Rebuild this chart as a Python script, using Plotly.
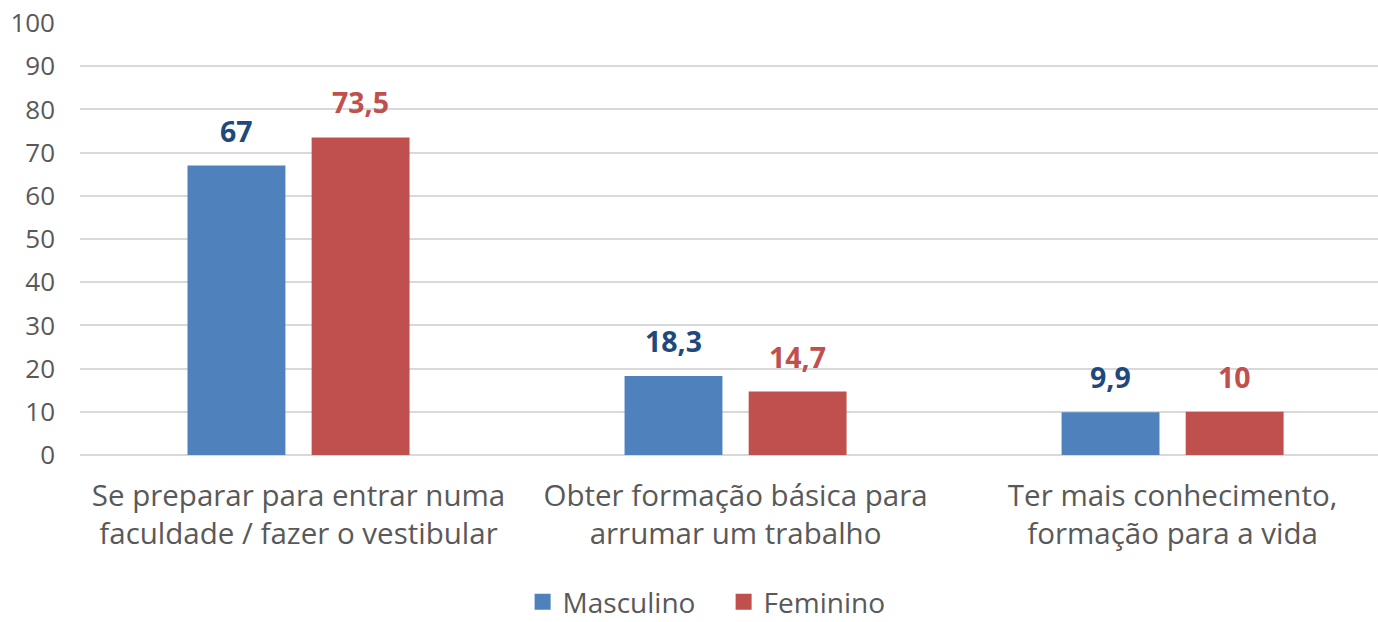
import plotly.graph_objects as go

categories = [
    "Se preparar para entrar numa<br>faculdade / fazer o vestibular",
    "Obter formação básica para<br>arrumar um trabalho",
    "Ter mais conhecimento,<br>formação para a vida",
]
series_names = ["Masculino", "Feminino"]
masculino = [67, 18.3, 9.9]
feminino = [73.5, 14.7, 10]
y_ticks = [0, 10, 20, 30, 40, 50, 60, 70, 80, 90, 100]

bar_colors = ["#4F81BD", "#C0504D"]
label_colors = ["#1F497D", "#C0504D"]
bar_width = 0.224
offsets = [-0.254, 0.030]

FONT = "Open Sans"
GREY = "#595959"

def fmt(v):
    return f"{v:g}".replace(".", ",")

xs = list(range(len(categories)))
fig = go.Figure()
annotations = []
for name, vals, col, lcol, off in zip(series_names, [masculino, feminino], bar_colors, label_colors, offsets):
    fig.add_trace(go.Bar(
        name=name, x=xs, y=vals, width=bar_width, offset=off,
        marker=dict(color=col, line=dict(width=0)),
        hoverinfo="skip", showlegend=False,
    ))
    for x, v in zip(xs, vals):
        annotations.append(dict(
            x=x + off + bar_width / 2, y=v, xref="x", yref="y",
            text=f"<b>{fmt(v)}</b>", showarrow=False,
            yanchor="middle", yshift=35,
            font=dict(family=FONT, size=28.5, color=lcol),
        ))
for name, col in zip(series_names, bar_colors):
    fig.add_trace(go.Scatter(
        name=name, x=[None], y=[None], mode="markers",
        marker=dict(symbol="square", size=18, color=col),
        showlegend=True, hoverinfo="skip",
    ))

fig.update_layout(
    width=1378, height=622,
    margin=dict(l=80, r=0, t=23, b=167),
    plot_bgcolor="white", paper_bgcolor="white",
    barmode="overlay",
    showlegend=True,
    legend=dict(orientation="h", x=0.341, xanchor="left",
                yref="container", y=1 - 602 / 622, yanchor="middle",
                font=dict(family=FONT, size=28, color=GREY),
                itemwidth=30, traceorder="normal", tracegroupgap=0,
                entrywidth=156, entrywidthmode="pixels"),
    annotations=annotations,
    font=dict(family=FONT, color=GREY),
)
fig.update_xaxes(
    range=[-0.5, 2.47], tickmode="array", tickvals=xs, ticktext=categories,
    showgrid=False, zeroline=False, showline=False, ticks="",
    tickfont=dict(family=FONT, size=29.5, color=GREY),
    ticklabelstandoff=20, automargin=False,
)
fig.update_yaxes(
    range=[0, 100], tickmode="array", tickvals=y_ticks,
    showgrid=True, gridcolor="#D9D9D9", gridwidth=1.5,
    zeroline=True, zerolinecolor="#D9D9D9", zerolinewidth=1.5,
    showline=False, ticks="",
    tickfont=dict(family=FONT, size=26, color=GREY),
    ticklabelstandoff=24, automargin=False,
)
fig.write_html(
    "out.html",
    config={"displayModeBar": False},
    post_script="document.body.style.margin='0';document.body.style.overflow='hidden';",
)
